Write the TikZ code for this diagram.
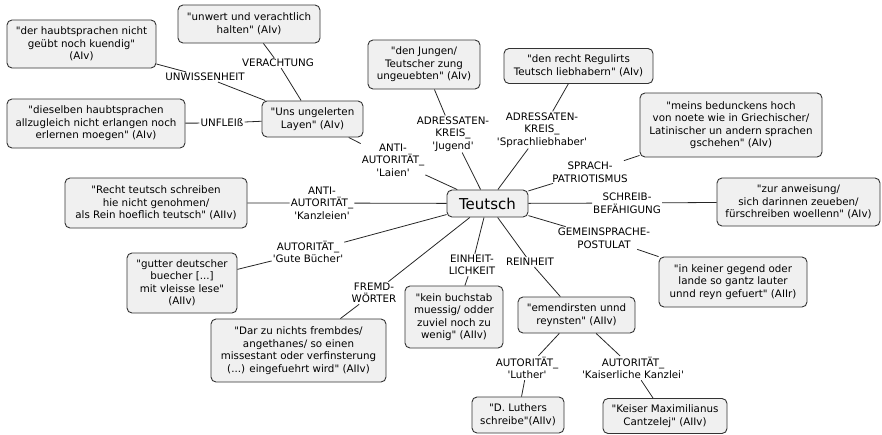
\documentclass[tikz,border=0pt]{standalone}
\usepackage{fontspec}
\setmainfont{DejaVu Sans}[Ligatures=TeXOff]
\newcommand{\ap}{\textquotesingle}
\newcommand{\dq}{\textquotedbl}
\begin{document}
\begin{tikzpicture}[x=1pt,y=-1pt,
  box/.style={draw=black!80, fill=black!6, rounded corners=5pt, line width=0.9pt,
    align=center, inner sep=2pt, font=\fontsize{10.3}{12.5}\selectfont},
  sz/.style 2 args={minimum width=#1pt, minimum height=#2pt},
  lab/.style={align=center, inner sep=1pt, font=\fontsize{10.3}{12.5}\selectfont},
  conn/.style={draw=black!85, line width=0.8pt}]
\useasboundingbox (0,0) rectangle (882,434);

% central node
\node[box, sz={81}{27}, font=\fontsize{15}{18}\selectfont] (teutsch) at (487.5,203.5) {Teutsch};

% boxes
\node[box, sz={142}{38}] (unwert) at (249,24) {\dq unwert und verachtlich\\halten\dq{} (AIv)};
\node[box, sz={149}{48}] (haubt) at (81.5,44) {\dq der haubtsprachen nicht\\geübt noch kuendig\dq\\(AIv)};
\node[box, sz={178}{49}] (dieselben) at (96,123.5) {\dq dieselben haubtsprachen\\allzugleich nicht erlangen noch\\erlernen moegen\dq{} (AIv)};
\node[box, sz={101}{36}] (uns) at (312.5,119) {\dq Uns ungelerten\\Layen\dq{} (AIv)};
\node[box, sz={112}{49}] (jungen) at (424,64.5) {\dq den Jungen/\\Teutscher zung\\ungeuebten\dq{} (AIv)};
\node[box, sz={149}{35}] (regul) at (578.5,66) {\dq den recht Regulirts\\Teutsch liebhabern\dq{} (AIv)};
\node[box, sz={182}{64}] (meins) at (731,125) {\dq meins bedunckens hoch\\von noete wie in Griechischer/\\Latinischer un andern sprachen\\gschehen\dq{} (AIv)};
\node[box, sz={163}{48}] (anweis) at (798.5,202) {\dq zur anweisung/\\sich darinnen zeueben/\\fürschreiben woellenn\dq{} (AIv)};
\node[box, sz={148}{50}] (keiner) at (733,282) {\dq in keiner gegend oder\\lande so gantz lauter\\unnd reyn gefuert\dq{} (AIIr)};
\node[box, sz={182}{50}] (recht) at (156,203) {\dq Recht teutsch schreiben\\hie nicht genohmen/\\als Rein hoeflich teutsch\dq{} (AIIv)};
\node[box, sz={110}{60}] (gutter) at (182,283) {\dq gutter deutscher\\buecher [...]\\mit vleisse lese\dq\\(AIIv)};
\node[box, sz={175}{63}] (darzu) at (298.5,350.5) {\dq Dar zu nichts frembdes/\\angethanes/ so einen\\missestant oder verfinsterung\\(...) eingefuehrt wird\dq{} (AIIv)};
\node[box, sz={98}{62}] (buchstab) at (454,317) {\dq kein buchstab\\muessig/ odder\\zuviel noch zu\\wenig\dq{} (AIIv)};
\node[box, sz={117}{36}] (emend) at (576.5,315) {\dq emendirsten unnd\\reynsten\dq{} (AIIv)};
\node[box, sz={92}{36}] (luthers) at (518,415) {\dq D. Luthers\\schreibe\dq(AIIv)};
\node[box, sz={124}{35}] (keiser) at (665,416) {\dq Keiser Maximilianus\\Cantzelej\dq{} (AIIv)};

% labels
\node[lab] (lverach) at (278,63) {VERACHTUNG};
\node[lab] (lunwiss) at (205,77) {UNWISSENHEIT};
\node[lab] (lunfleiss) at (222,123) {UNFLEIß};
\node[lab] (ljugend) at (453,134) {ADRESSATEN-\\KREIS\_\\\ap Jugend\ap};
\node[lab] (lsprachl) at (542,130) {ADRESSATEN-\\KREIS\_\\\ap Sprachliebhaber\ap};
\node[lab] (llaien) at (393,160) {ANTI-\\AUTORITÄT\_\\\ap Laien\ap};
\node[lab] (lkanzl) at (322,203) {ANTI-\\AUTORITÄT\_\\\ap Kanzleien\ap};
\node[lab] (lgute) at (308,252) {AUTORITÄT\_\\\ap Gute Bücher\ap};
\node[lab] (lfremd) at (374,293) {FREMD-\\WÖRTER};
\node[lab] (leinheit) at (472,265) {EINHEIT-\\LICHKEIT};
\node[lab] (lrein) at (530,262) {REINHEIT};
\node[lab] (lpatr) at (590,172) {SPRACH-\\PATRIOTISMUS};
\node[lab] (lschreib) at (627,203) {SCHREIB-\\BEFÄHIGUNG};
\node[lab] (lgemein) at (604,238) {GEMEINSPRACHE-\\POSTULAT};
\node[lab] (lluther) at (527,368) {AUTORITÄT\_\\\ap Luther\ap};
\node[lab] (lkaiser) at (633,368) {AUTORITÄT\_\\\ap Kaiserliche Kanzlei\ap};

% connectors
\draw[conn] (teutsch) -- (ljugend) (ljugend) -- (jungen);
\draw[conn] (teutsch) -- (lsprachl) (lsprachl) -- (regul);
\draw[conn] (teutsch) -- (lpatr) (lpatr) -- (meins);
\draw[conn] (teutsch) -- (lschreib) (lschreib) -- (anweis);
\draw[conn] (teutsch) -- (lgemein) (lgemein) -- (keiner);
\draw[conn] (teutsch) -- (lrein) (lrein) -- (emend);
\draw[conn] (emend) -- (lluther) (lluther) -- (luthers);
\draw[conn] (emend) -- (lkaiser) (lkaiser) -- (keiser);
\draw[conn] (teutsch) -- (leinheit) (leinheit) -- (buchstab);
\draw[conn] (teutsch) -- (lfremd) (lfremd) -- (darzu);
\draw[conn] (teutsch) -- (lgute) (lgute) -- (gutter);
\draw[conn] (teutsch) -- (lkanzl) (lkanzl) -- (recht);
\draw[conn] (teutsch) -- (llaien) (llaien) -- (uns);
\draw[conn] (uns) -- (lverach) (lverach) -- (unwert);
\draw[conn] (uns) -- (lunwiss) (lunwiss) -- (haubt);
\draw[conn] (uns) -- (lunfleiss) (lunfleiss) -- (dieselben);
\end{tikzpicture}
\end{document}
